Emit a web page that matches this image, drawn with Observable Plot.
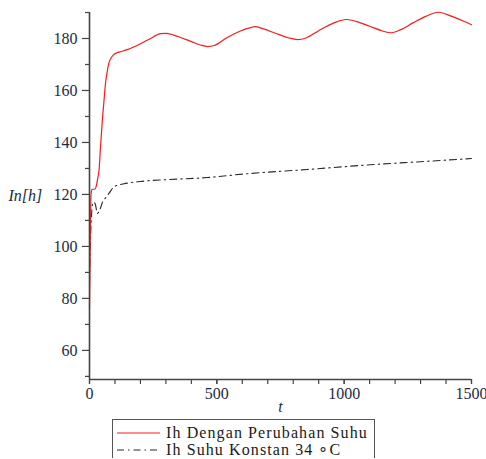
<!DOCTYPE html>
<html>
<head>
<meta charset="utf-8">
<script src="https://cdn.jsdelivr.net/npm/d3@7"></script>
<script src="https://cdn.jsdelivr.net/npm/@observablehq/plot@0.6"></script>
<style>
  body { margin: 0; background: #fff; font-family: "Liberation Serif", "Times New Roman", serif; }
  #legend { position: relative; margin-left: 112px; margin-top: 3px; width: 261px; border: 1px solid #555; border-bottom: none; padding-top: 4px; }
  .row { display: flex; align-items: center; height: 17px; font-size: 16px; letter-spacing: 1.1px; color: #1a1a1a; white-space: nowrap; }
  .row svg { margin-left: 4px; margin-right: 6px; flex: none; }
  .row span { white-space: nowrap; flex: none; }
</style>
</head>
<body>
<div id="chart"></div>
<div id="legend"></div>
<script>
// Red: Ih with temperature change
const tRed = [0, 2, 4, 6, 10, 20, 26, 32, 38, 43, 50, 56, 62, 69, 76, 86, 95, 108, 125, 148, 175, 200, 240, 279, 300, 330, 357, 400, 436, 463, 490, 541, 590, 632, 650, 680, 730, 780, 817, 850, 900, 960, 1009, 1050, 1100, 1150, 1182, 1220, 1270, 1320, 1370, 1420, 1460, 1500];
const hRed = [76, 95, 110, 120, 122, 122, 123, 126, 130, 138, 148, 155, 162, 167, 170.5, 172.7, 173.8, 174.5, 175, 175.7, 176.8, 178, 180, 181.9, 182, 181.3, 180.4, 178.8, 177.5, 176.9, 177.3, 180.4, 182.8, 184.2, 184.6, 183.8, 182, 180.3, 179.6, 180.2, 183, 186, 187.3, 186.5, 184.7, 182.9, 182.2, 183.3, 186, 188.5, 190.1, 188.6, 187, 185.3];
// Black: Ih constant temperature 34 C
const tBlack = [0, 3, 8, 14, 22, 31, 40, 51, 64, 77, 97, 136, 200, 305, 463, 600, 855, 1115, 1300, 1500];
const hBlack = [86, 100, 112, 117, 116.5, 112.7, 114, 117, 118.8, 120.5, 123, 124.1, 125, 125.7, 126.5, 127.8, 129.6, 131.5, 132.6, 133.8];

const xMajor = [0, 500, 1000, 1500];
const xMinor = d3.range(0, 1501, 100);
const yMajor = [60, 80, 100, 120, 140, 160, 180];
const yMinor = [50, 70, 90, 110, 130, 150, 170, 190];
const seriesNames = ["Ih Dengan Perubahan Suhu", "Ih Suhu Konstan 34 \u2218C"];

const red = tRed.map((t, i) => ({t, h: hRed[i]}));
const black = tBlack.map((t, i) => ({t, h: hBlack[i]}));

const axisColor = "#444";
const labelColor = "#1e2a40";
const font = "'Liberation Serif', 'Times New Roman', serif";

const chart = Plot.plot({
  width: 486,
  height: 416,
  marginLeft: 89,
  marginRight: 15,
  marginTop: 12,
  marginBottom: 37,
  style: {fontFamily: font, background: "#fff"},
  x: {domain: [0, 1500]},
  y: {domain: [48.8, 190]},
  marks: [
    Plot.line(black, {x: "t", y: "h", stroke: "#2a2a2a", strokeWidth: 1.1, strokeDasharray: "7,4,1.5,4", curve: "monotone-x"}),
    Plot.line(red, {x: "t", y: "h", stroke: "#ff1a1a", strokeWidth: 1.2, curve: "monotone-x"}),
    Plot.ruleX([0], {stroke: axisColor, strokeWidth: 1.6}),
    Plot.ruleY([48.8], {stroke: axisColor, strokeWidth: 1.6}),
    Plot.axisX(xMinor, {tickSize: 5, tickFormat: () => "", stroke: axisColor, strokeWidth: 1.2, label: null}),
    Plot.axisX(xMajor, {tickSize: 5, tickPadding: 3, stroke: axisColor, strokeWidth: 1.2, fontSize: 16, fontFamily: font, fill: labelColor, label: null, tickFormat: d => String(d)}),
    Plot.axisY(yMinor, {tickSize: 4, tickFormat: () => "", stroke: axisColor, strokeWidth: 1.2, label: null}),
    Plot.axisY(yMajor, {tickSize: 7, tickPadding: 5, stroke: axisColor, strokeWidth: 1.2, fontSize: 16, fontFamily: font, fill: labelColor, label: null, tickFormat: d => String(d)}),
    Plot.text(["In[h]"], {frameAnchor: "left", dx: -81, textAnchor: "start", fontSize: 16, fontFamily: font, fontStyle: "italic", fill: labelColor}),
    Plot.text(["t"], {frameAnchor: "bottom", dy: 32, fontSize: 16, fontFamily: font, fontStyle: "italic", fill: labelColor})
  ]
});
document.getElementById("chart").appendChild(chart);

const legend = document.getElementById("legend");
const styles = [{stroke: "#ff1a1a", dash: null}, {stroke: "#2a2a2a", dash: "7,4,1.5,4"}];
seriesNames.forEach((name, i) => {
  const row = document.createElement("div");
  row.className = "row";
  const s = styles[i];
  row.innerHTML = `<svg width="43" height="10"><line x1="0" y1="5" x2="43" y2="5" stroke="${s.stroke}" stroke-width="1.2" ${s.dash ? `stroke-dasharray="${s.dash}"` : ""}/></svg><span>${name}</span>`;
  legend.appendChild(row);
});
</script>
</body>
</html>
